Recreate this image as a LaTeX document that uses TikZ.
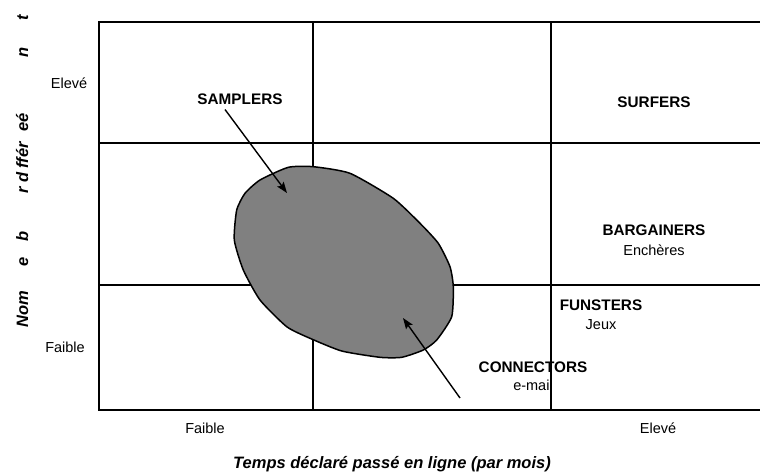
\documentclass[tikz,border=0pt]{standalone}
\usepackage{fontspec}
\setmainfont{Liberation Sans}
\usetikzlibrary{arrows.meta}
\definecolor{blobgray}{RGB}{128,128,128}
\begin{document}
\begin{tikzpicture}[x=1pt,y=-1pt,
  frame/.style={line width=2pt,draw=black},
  gridline/.style={line width=1.5pt,draw=black},
  seg/.style={font=\fontsize{15.3}{18}\selectfont\bfseries,anchor=base,inner sep=0pt},
  sub/.style={font=\fontsize{14.5}{17}\selectfont,anchor=base,inner sep=0pt},
  axlab/.style={font=\fontsize{14.5}{17}\selectfont,anchor=base,inner sep=0pt},
  axtitle/.style={font=\fontsize{16.5}{19}\selectfont\bfseries\itshape,anchor=base,inner sep=0pt},
  ypiece/.style={font=\fontsize{16.5}{19}\selectfont\bfseries\itshape,anchor=base,inner sep=0pt,rotate=90},
  pointer/.style={line width=1.4pt,-{Stealth[length=11pt,width=8pt,inset=2pt]}}]
\useasboundingbox (0,0) rectangle (760,475);
% grid
\draw[gridline] (99,143) -- (760,143);
\draw[gridline] (99,285) -- (760,285);
\draw[gridline] (313,21.5) -- (313,409.5);
\draw[gridline] (551,21.5) -- (551,409.5);
\draw[frame] (760,21.5) -- (99,21.5) -- (99,409.5) -- (760,409.5);
% blob
\draw[fill=blobgray,line width=1.5pt,line join=round]
 plot[smooth cycle,tension=0.35] coordinates {
 (288.3,167.3) (313.3,166.7) (350,173.3) (393.3,198.3) (420,223.3)
 (438.3,243.3) (450,266.7) (453.3,286.7) (451.7,316.7) (436.7,340)
 (423.3,350) (401.7,357.3) (380,357.3) (341.7,351) (310,338.3)
 (286.7,326.7) (260,300) (243.3,270) (234.3,240) (236.7,210)
 (245,193.3) (260,180)};
% segment labels
\node[seg] (samplers) at (240,104) {SAMPLERS};
\node[seg] (surfers) at (654,107) {SURFERS};
\node[seg] (bargainers) at (654,235.5) {BARGAINERS};
\node[sub] (encheres) at (654,255) {Enchères};
\node[seg] (funsters) at (601,310.5) {FUNSTERS};
\node[sub] (jeux) at (601,329) {Jeux};
\node[seg] (connectors) at (533,372) {CONNECTORS};
\node[sub] (email) at (533,390) {e-mail};
% arrows
\coordinate (sampfrom) at (225,109.5);
\coordinate (sampto) at (287,193);
\coordinate (connfrom) at (460,398);
\coordinate (connto) at (403,318);
\draw[pointer] (sampfrom) -- (sampto);
\draw[pointer] (connfrom) -- (connto);
% axis labels
\node[axlab] (yhigh) at (69,88) {Elevé};
\node[axlab] (ylow) at (65,352) {Faible};
\node[axlab] (xlow) at (205,433) {Faible};
\node[axlab] (xhigh) at (658,433) {Elevé};
\node[axtitle] (xtitle) at (392,468) {Temps déclaré passé en ligne (par mois)};
% y-axis title pieces
\node[ypiece] (y1) at (28,309) {Nom};
\node[ypiece] (y2) at (28,262) {e};
\node[ypiece] (y3) at (28,236) {b};
\node[ypiece] (y4) at (28,168) {r d ffér};
\node[ypiece] (y5) at (28,122) {eé};
\node[ypiece] (y6) at (28,52) {n};
\node[ypiece] (y7) at (28,18) {t};
\end{tikzpicture}
\end{document}
